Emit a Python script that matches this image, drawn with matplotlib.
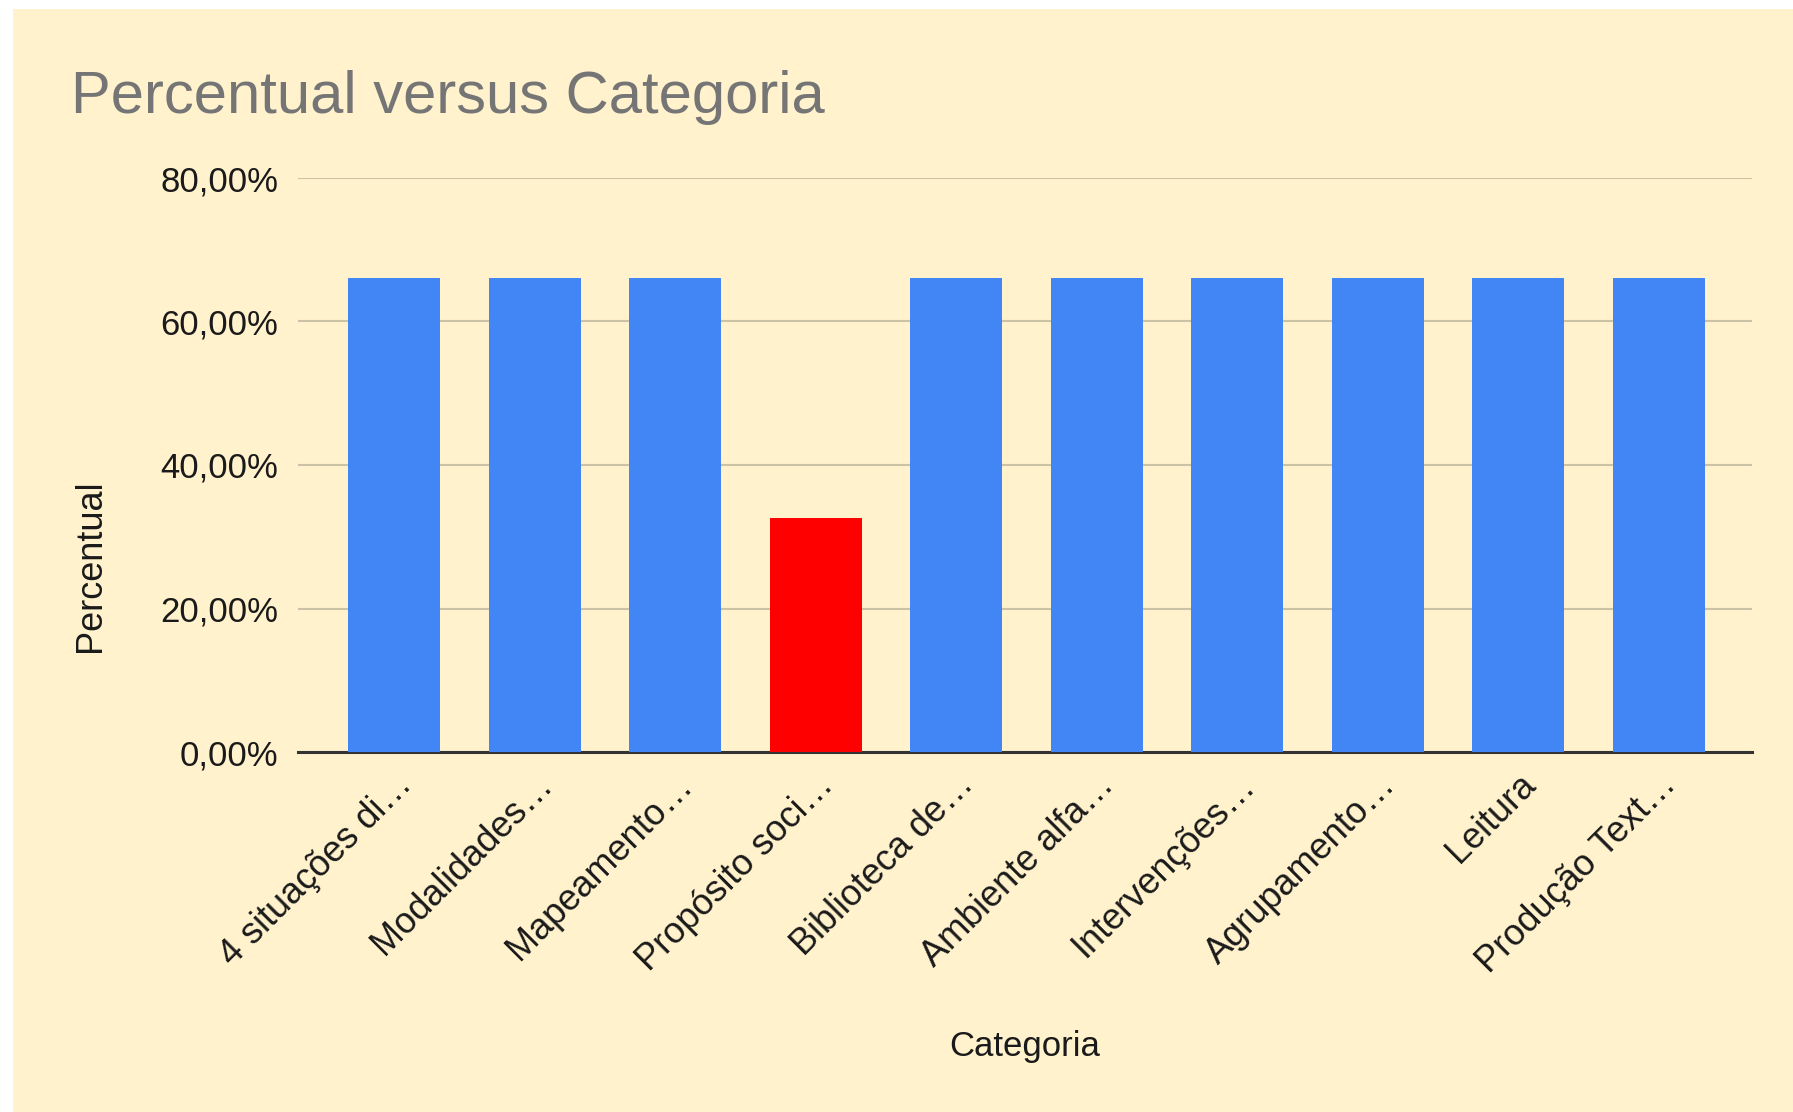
import numpy as np
import matplotlib
matplotlib.use('Agg')
import matplotlib.pyplot as plt
from matplotlib.patches import Rectangle
from matplotlib.ticker import FuncFormatter

#************ data **************
categories = ['4 situações di…', 'Modalidades…', 'Mapeamento…', 'Propósito soci…',
              'Biblioteca de…', 'Ambiente alfa…', 'Intervenções…', 'Agrupamento…',
              'Leitura', 'Produção Text…']
percentual = [66.0, 66.0, 66.0, 32.6, 66.0, 66.0, 66.0, 66.0, 66.0, 66.0]
highlight = 'Propósito soci…'   # bar drawn in red
yticks = [0, 20, 40, 60, 80]

title = 'Percentual versus Categoria'
xlabel = 'Categoria'
ylabel = 'Percentual'

#************ style **************
plt.rcParams['font.family'] = ['Liberation Sans', 'DejaVu Sans']
bg = '#fff2cc'
blue = '#4285f4'
red = '#ff0000'
grid_col = '#cbc3a6'
W, H = 1793, 1112

fig = plt.figure(figsize=(W/100, H/100), dpi=100, facecolor='white')
# cream card, leaves a thin white strip on the top and left like the screenshot
fig.patches.append(Rectangle((13/W, 0), 1-13/W, 1-9/H, transform=fig.transFigure,
                             facecolor=bg, edgecolor='none', zorder=-10))

ax = fig.add_axes([298/W, (H-752)/H, (1752-298)/W, (752-178)/H])
ax.set_facecolor('none')

x = np.arange(len(categories))
colors = [red if c == highlight else blue for c in categories]
ax.bar(x, percentual, width=0.655, color=colors, zorder=3)

ax.set_xlim(-0.683, len(categories)-1+0.662)
ax.set_ylim(0, 80)
ax.set_yticks(yticks)
ax.yaxis.set_major_formatter(FuncFormatter(lambda v, p: ('%.2f%%' % v).replace('.', ',')))
ax.grid(axis='y', color=grid_col, linewidth=1.5, zorder=0)
ax.set_axisbelow(True)

for s in ['top', 'right', 'left']:
    ax.spines[s].set_visible(False)
ax.spines['bottom'].set_color('#333333')
ax.spines['bottom'].set_linewidth(2.2)
ax.spines['bottom'].set_zorder(2)

ax.tick_params(axis='y', length=0, pad=14, labelsize=25, labelcolor='#1a1a1a')
ax.tick_params(axis='x', length=0, pad=11, labelsize=26, labelcolor='#1a1a1a')
ax.set_xticks(x)
ax.set_xticklabels(categories, rotation=45, ha='right', va='top', rotation_mode='anchor')

ax.set_xlabel(xlabel, fontsize=25, color='#1a1a1a', va='top')
ax.xaxis.set_label_coords(0.5, -0.485)
ax.set_ylabel(ylabel, fontsize=26, color='#1a1a1a')
ax.yaxis.set_label_coords(-0.131, 0.324)

fig.text(71/W, (H-113)/H, title, fontsize=43, color='#757575', ha='left', va='baseline')

plt.savefig('out.png', dpi=100, facecolor=fig.get_facecolor())
